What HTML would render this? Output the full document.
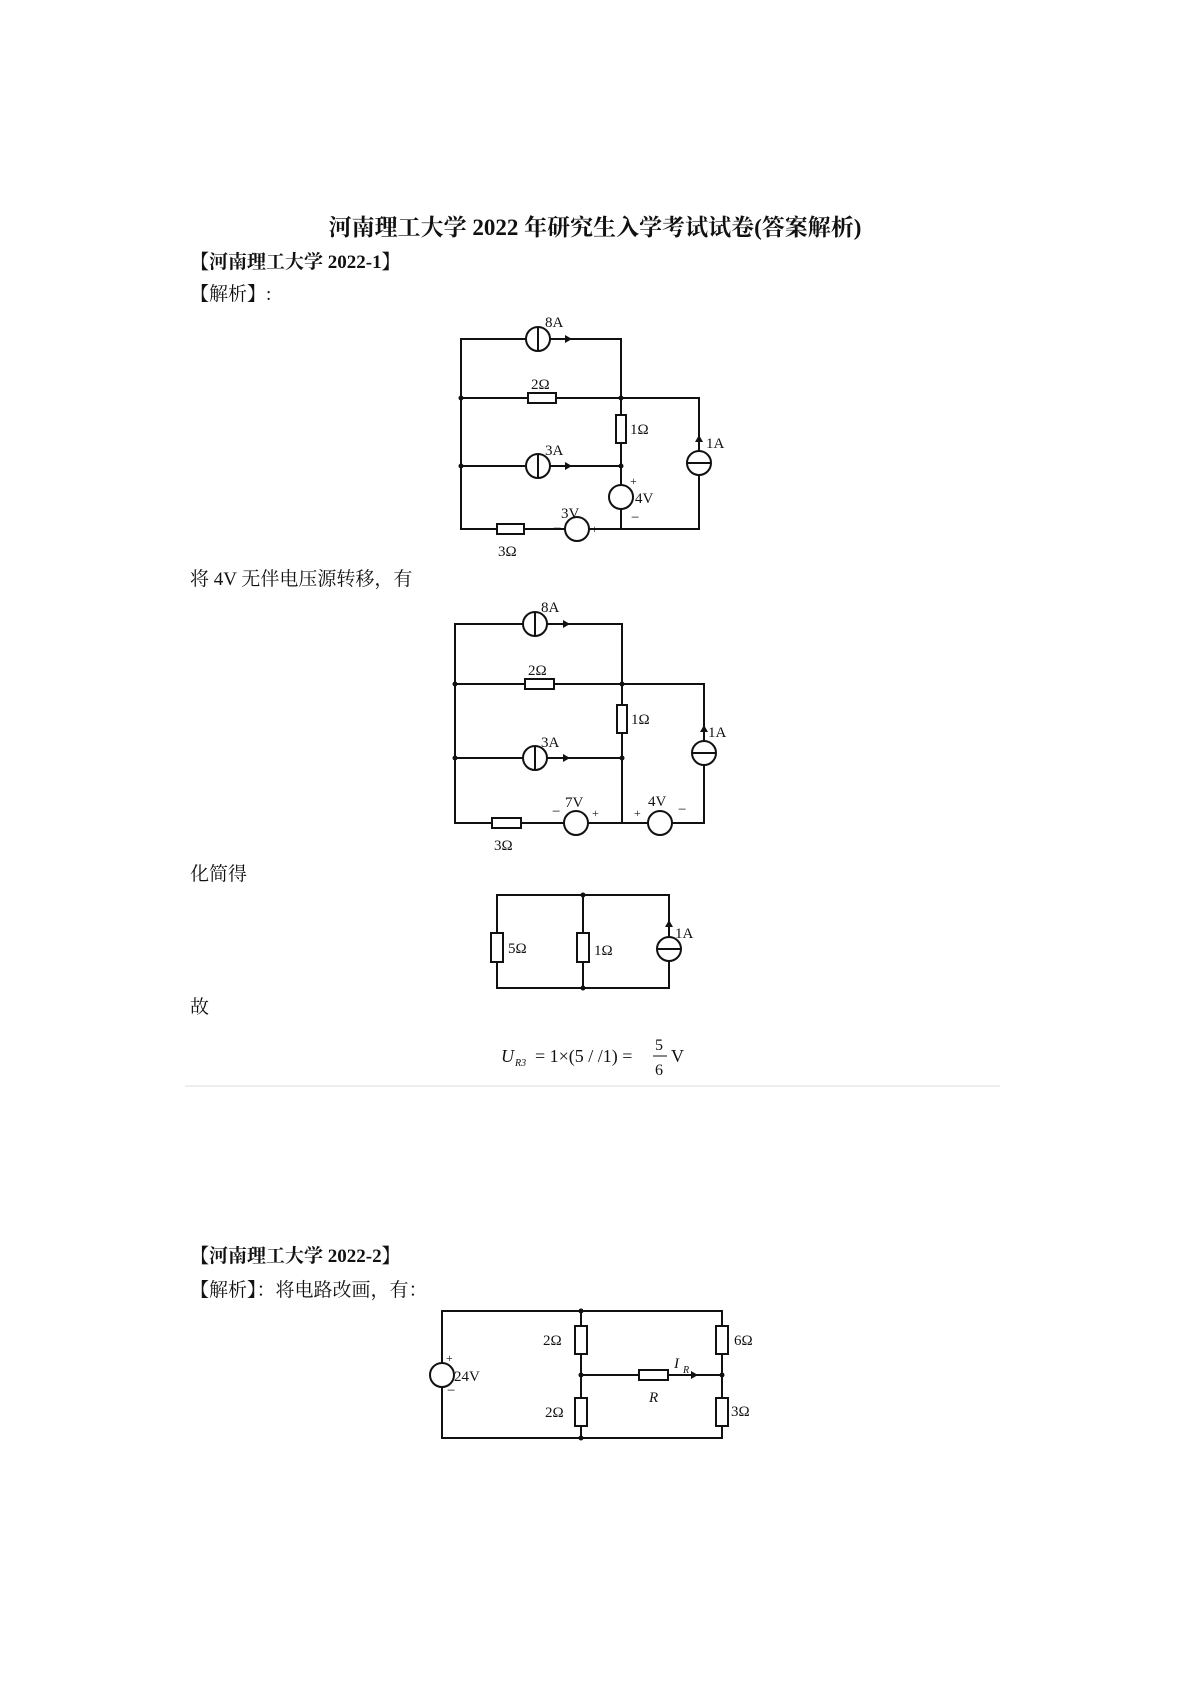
<!DOCTYPE html>
<html><head><meta charset="utf-8"><style>
html,body{margin:0;padding:0;background:#fff;}
svg{display:block}
text{font-family:"Liberation Serif","Noto Serif CJK SC",serif;fill:#111}
</style></head><body>
<svg width="1190" height="1683" viewBox="0 0 1190 1683" xmlns="http://www.w3.org/2000/svg">
<g font-size="19">
<text x="595" y="235" text-anchor="middle" font-size="23" font-weight="bold">河南理工大学 2022 年研究生入学考试试卷(答案解析)</text>
<text x="190" y="268" font-weight="bold">【河南理工大学 2022-1】</text>
<text x="190" y="300">【解析】:</text>
<text x="190" y="585">将 4V 无伴电压源转移，有</text>
<text x="190" y="880">化简得</text>
<text x="190" y="1013">故</text>
<text x="190" y="1262" font-weight="bold">【河南理工大学 2022-2】</text>
<text x="190" y="1296">【解析】：将电路改画，有：</text>
</g>
<line x1="185" y1="1086" x2="1000" y2="1086" stroke="#eee" stroke-width="2"/>

<g stroke="#111" stroke-width="2" fill="none">
<path d="M461 339H621V529H461Z M461 398H699V529H621 M461 466H621"/>
<path d="M455 624H622V823H455Z M455 684H704V823H622 M455 758H622"/>
<path d="M497 895H669V988H497Z M583 895V988"/>
<path d="M442 1311H722V1438H442Z M581 1311V1438 M581 1375H722"/>
</g>

<g stroke="#111" stroke-width="2" fill="#fff">
<circle cx="538" cy="339" r="12"/><rect x="528" y="393" width="28" height="10"/>
<rect x="616" y="415" width="10" height="28"/>
<circle cx="538" cy="466" r="12"/><circle cx="621" cy="497" r="12"/>
<circle cx="577" cy="529" r="12"/><rect x="497" y="524" width="27" height="10"/>
<circle cx="699" cy="463" r="12"/>
<circle cx="535" cy="624" r="12"/><rect x="525" y="679" width="29" height="10"/>
<rect x="617" y="705" width="10" height="28"/>
<circle cx="535" cy="758" r="12"/><circle cx="704" cy="753" r="12"/>
<circle cx="576" cy="823" r="12"/><circle cx="660" cy="823" r="12"/>
<rect x="492" y="818" width="29" height="10"/>
<rect x="491" y="933" width="12" height="29"/><rect x="577" y="933" width="12" height="29"/>
<circle cx="669" cy="949" r="12"/>
<circle cx="442" cy="1375" r="12"/>
<rect x="575" y="1326" width="12" height="28"/><rect x="575" y="1398" width="12" height="28"/>
<rect x="716" y="1326" width="12" height="28"/><rect x="716" y="1398" width="12" height="28"/>
<rect x="639" y="1370" width="29" height="10"/>
</g>
<g stroke="#111" stroke-width="2" fill="none">
<path d="M538 327V351 M538 454V478 M535 612V636 M535 746V770 M687 463H711 M692 753H716 M657 949H681"/>
<path d="M550 339H566 M550 466H566 M547 624H565 M547 758H565 M668 1375H690"/>
</g>
<g fill="#111">
<circle cx="461" cy="398" r="2.5"/><circle cx="621" cy="398" r="2.5"/><circle cx="461" cy="466" r="2.5"/><circle cx="621" cy="466" r="2.5"/>
<circle cx="455" cy="684" r="2.5"/><circle cx="622" cy="684" r="2.5"/><circle cx="455" cy="758" r="2.5"/><circle cx="622" cy="758" r="2.5"/>
<circle cx="583" cy="895" r="2.5"/><circle cx="583" cy="988" r="2.5"/>
<circle cx="581" cy="1311" r="2.5"/><circle cx="581" cy="1375" r="2.5"/><circle cx="581" cy="1438" r="2.5"/><circle cx="722" cy="1375" r="2.5"/>
<path d="M565 335L565 343L572 339Z M565 462L565 470L572 466Z M563 620L563 628L570 624Z M563 754L563 762L570 758Z"/>
<path d="M695 442H703L699 435Z M700 732H708L704 725Z M665 927H673L669 920Z M691 1371V1379L698 1375Z"/>
</g>
<g font-size="15">
<text x="545" y="327">8A</text><text x="531" y="389">2Ω</text><text x="630" y="434">1Ω</text>
<text x="545" y="455">3A</text><text x="706" y="448">1A</text>
<text x="630" y="485" font-size="12">+</text><text x="635" y="503">4V</text><text x="631" y="522">−</text>
<text x="561" y="518">3V</text><text x="553" y="533">−</text><text x="591" y="533" font-size="12">+</text><text x="498" y="556">3Ω</text>
<text x="541" y="612">8A</text><text x="528" y="675">2Ω</text><text x="631" y="724">1Ω</text>
<text x="541" y="747">3A</text><text x="708" y="737">1A</text>
<text x="565" y="807">7V</text><text x="552" y="816">−</text><text x="592" y="817" font-size="12">+</text>
<text x="648" y="806">4V</text><text x="634" y="817" font-size="12">+</text><text x="678" y="814">−</text>
<text x="494" y="850">3Ω</text>
<text x="508" y="953">5Ω</text><text x="594" y="955">1Ω</text><text x="675" y="938">1A</text>
<text x="446" y="1362" font-size="12">+</text><text x="454" y="1381">24V</text><text x="447" y="1395">−</text>
<text x="543" y="1345">2Ω</text><text x="545" y="1417">2Ω</text>
<text x="734" y="1345">6Ω</text><text x="731" y="1416">3Ω</text>
<text x="674" y="1368" font-style="italic">I</text><text x="683" y="1373" font-size="10" font-style="italic">R</text>
<text x="649" y="1402" font-style="italic">R</text>
</g>
<g font-size="18">
<text x="501" y="1062" font-style="italic">U</text><text x="515" y="1066" font-size="10" font-style="italic">R3</text>
<text x="535" y="1062">= 1×(5 / /1) =</text>
<text x="655" y="1050" font-size="16">5</text><line x1="653" y1="1056" x2="667" y2="1056" stroke="#111" stroke-width="1"/>
<text x="655" y="1075" font-size="16">6</text><text x="671" y="1062">V</text>
</g>
</svg>
</body></html>
